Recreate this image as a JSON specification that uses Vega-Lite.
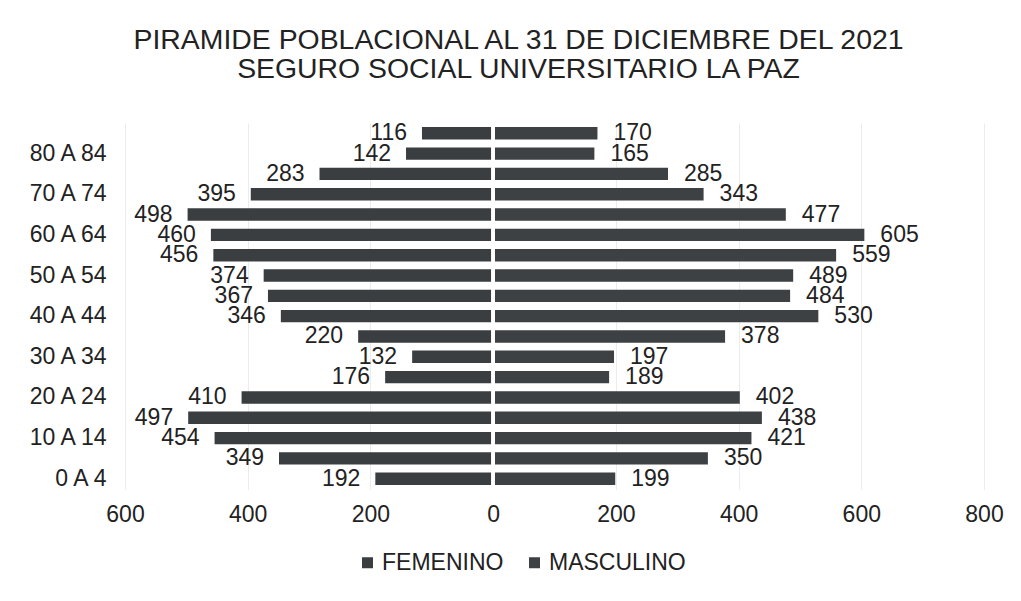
{
  "$schema": "https://vega.github.io/schema/vega-lite/v6.json",
  "autosize": "none",
  "width": 859,
  "height": 366,
  "padding": {"left": 125, "top": 123, "right": 37, "bottom": 112},
  "background": "#ffffff",
  "title": {
    "text": ["PIRAMIDE POBLACIONAL AL 31 DE DICIEMBRE DEL 2021", "SEGURO SOCIAL UNIVERSITARIO LA PAZ"],
    "font": "Liberation Sans",
    "fontSize": 28.4,
    "fontWeight": "normal",
    "color": "#222222",
    "anchor": "middle",
    "dx": -36,
    "lineHeight": 29,
    "offset": 37
  },
  "data": {
    "values": [
      {"grupo": "85 Y MAS", "sexo": "FEMENINO", "n": 116},
      {"grupo": "85 Y MAS", "sexo": "MASCULINO", "n": 170},
      {"grupo": "80 A 84", "sexo": "FEMENINO", "n": 142},
      {"grupo": "80 A 84", "sexo": "MASCULINO", "n": 165},
      {"grupo": "75 A 79", "sexo": "FEMENINO", "n": 283},
      {"grupo": "75 A 79", "sexo": "MASCULINO", "n": 285},
      {"grupo": "70 A 74", "sexo": "FEMENINO", "n": 395},
      {"grupo": "70 A 74", "sexo": "MASCULINO", "n": 343},
      {"grupo": "65 A 69", "sexo": "FEMENINO", "n": 498},
      {"grupo": "65 A 69", "sexo": "MASCULINO", "n": 477},
      {"grupo": "60 A 64", "sexo": "FEMENINO", "n": 460},
      {"grupo": "60 A 64", "sexo": "MASCULINO", "n": 605},
      {"grupo": "55 A 59", "sexo": "FEMENINO", "n": 456},
      {"grupo": "55 A 59", "sexo": "MASCULINO", "n": 559},
      {"grupo": "50 A 54", "sexo": "FEMENINO", "n": 374},
      {"grupo": "50 A 54", "sexo": "MASCULINO", "n": 489},
      {"grupo": "45 A 49", "sexo": "FEMENINO", "n": 367},
      {"grupo": "45 A 49", "sexo": "MASCULINO", "n": 484},
      {"grupo": "40 A 44", "sexo": "FEMENINO", "n": 346},
      {"grupo": "40 A 44", "sexo": "MASCULINO", "n": 530},
      {"grupo": "35 A 39", "sexo": "FEMENINO", "n": 220},
      {"grupo": "35 A 39", "sexo": "MASCULINO", "n": 378},
      {"grupo": "30 A 34", "sexo": "FEMENINO", "n": 132},
      {"grupo": "30 A 34", "sexo": "MASCULINO", "n": 197},
      {"grupo": "25 A 29", "sexo": "FEMENINO", "n": 176},
      {"grupo": "25 A 29", "sexo": "MASCULINO", "n": 189},
      {"grupo": "20 A 24", "sexo": "FEMENINO", "n": 410},
      {"grupo": "20 A 24", "sexo": "MASCULINO", "n": 402},
      {"grupo": "15 A 19", "sexo": "FEMENINO", "n": 497},
      {"grupo": "15 A 19", "sexo": "MASCULINO", "n": 438},
      {"grupo": "10 A 14", "sexo": "FEMENINO", "n": 454},
      {"grupo": "10 A 14", "sexo": "MASCULINO", "n": 421},
      {"grupo": "5 A 9", "sexo": "FEMENINO", "n": 349},
      {"grupo": "5 A 9", "sexo": "MASCULINO", "n": 350},
      {"grupo": "0 A 4", "sexo": "FEMENINO", "n": 192},
      {"grupo": "0 A 4", "sexo": "MASCULINO", "n": 199}
    ]
  },
  "transform": [
    {"calculate": "datum.sexo === 'FEMENINO' ? -datum.n : datum.n", "as": "pos"}
  ],
  "config": {
    "view": {"stroke": null},
    "text": {"font": "Liberation Sans"}
  },
  "layer": [
    {
      "mark": {"type": "bar"},
      "encoding": {
        "y": {
          "field": "grupo",
          "type": "nominal",
          "sort": ["85 Y MAS", "80 A 84", "75 A 79", "70 A 74", "65 A 69", "60 A 64", "55 A 59", "50 A 54", "45 A 49", "40 A 44", "35 A 39", "30 A 34", "25 A 29", "20 A 24", "15 A 19", "10 A 14", "5 A 9", "0 A 4"],
          "scale": {"paddingInner": 0.39, "paddingOuter": 0.2},
          "axis": {
            "title": null,
            "values": ["80 A 84", "70 A 74", "60 A 64", "50 A 54", "40 A 44", "30 A 34", "20 A 24", "10 A 14", "0 A 4"],
            "domain": false,
            "ticks": false,
            "grid": false,
            "labelFont": "Liberation Sans",
            "labelFontSize": 23,
            "labelColor": "#222222",
            "labelPadding": 19
          }
        },
        "x": {
          "field": "pos",
          "type": "quantitative",
          "scale": {"domain": [-600, 800], "nice": false},
          "axis": {
            "title": null,
            "values": [-600, -400, -200, 0, 200, 400, 600, 800],
            "labelExpr": "abs(datum.value)",
            "labelFlush": false,
            "domain": false,
            "ticks": false,
            "grid": true,
            "gridColor": "#ececec",
            "labelFont": "Liberation Sans",
            "labelFontSize": 23,
            "labelColor": "#222222",
            "labelPadding": 14
          }
        },
        "color": {
          "field": "sexo",
          "type": "nominal",
          "scale": {"domain": ["FEMENINO", "MASCULINO"], "range": ["#3a3e40", "#3d4143"]},
          "legend": {
            "title": null,
            "orient": "none",
            "legendX": 231,
            "legendY": 428,
            "direction": "horizontal",
            "symbolType": "square",
            "symbolSize": 121,
            "symbolStrokeWidth": 0,
            "labelFont": "Liberation Sans",
            "labelFontSize": 23,
            "labelColor": "#222222",
            "labelOffset": 3,
            "columnPadding": 19,
            "padding": 0
          }
        }
      }
    },
    {
      "mark": {"type": "rule", "color": "#ffffff", "strokeWidth": 2.5},
      "encoding": {"x": {"datum": 0}}
    },
    {
      "transform": [{"filter": "datum.sexo === 'FEMENINO'"}],
      "mark": {"type": "text", "align": "right", "baseline": "middle", "dx": -15, "fontSize": 23, "color": "#222222"},
      "encoding": {
        "y": {"field": "grupo", "type": "nominal", "sort": ["85 Y MAS", "80 A 84", "75 A 79", "70 A 74", "65 A 69", "60 A 64", "55 A 59", "50 A 54", "45 A 49", "40 A 44", "35 A 39", "30 A 34", "25 A 29", "20 A 24", "15 A 19", "10 A 14", "5 A 9", "0 A 4"]},
        "x": {"field": "pos", "type": "quantitative"},
        "text": {"field": "n", "type": "quantitative"}
      }
    },
    {
      "transform": [{"filter": "datum.sexo === 'MASCULINO'"}],
      "mark": {"type": "text", "align": "left", "baseline": "middle", "dx": 16, "fontSize": 23, "color": "#222222"},
      "encoding": {
        "y": {"field": "grupo", "type": "nominal", "sort": ["85 Y MAS", "80 A 84", "75 A 79", "70 A 74", "65 A 69", "60 A 64", "55 A 59", "50 A 54", "45 A 49", "40 A 44", "35 A 39", "30 A 34", "25 A 29", "20 A 24", "15 A 19", "10 A 14", "5 A 9", "0 A 4"]},
        "x": {"field": "pos", "type": "quantitative"},
        "text": {"field": "n", "type": "quantitative"}
      }
    }
  ]
}
